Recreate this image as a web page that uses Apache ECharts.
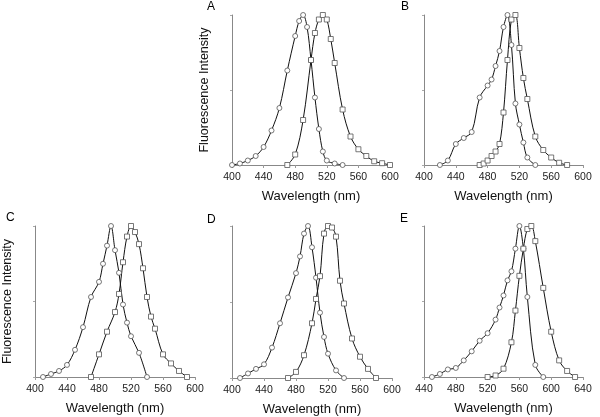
<!DOCTYPE html>
<html>
<head>
<meta charset="utf-8">
<script src="https://cdn.jsdelivr.net/npm/echarts@6/dist/echarts.min.js"></script>
<style>
  html, body { margin: 0; padding: 0; background: #fff; }
  #chart { width: 600px; height: 417px; }
</style>
</head>
<body>
<div id="chart"></div>
<script>
// panel A
const aExX = [400,410,420,430,440,450,460,470,480,485,490,495,500,505,510,515,520,530,540];
const aExY = [0,0.01,0.03,0.06,0.12,0.23,0.38,0.63,0.86,0.96,1.0,0.92,0.70,0.45,0.24,0.09,0.03,0.01,0];
const aEmX = [470,480,490,500,505,510,515,520,525,530,540,550,560,570,580,590,600];
const aEmY = [0,0.07,0.30,0.70,0.88,0.97,1.0,0.97,0.84,0.68,0.37,0.19,0.105,0.06,0.025,0.012,0];
// panel B
const bExX = [420,430,440,450,460,470,480,485,490,495,500,505,510,515,520,525,530,540];
const bExY = [0,0.03,0.14,0.18,0.22,0.45,0.53,0.57,0.66,0.76,0.92,1.0,0.80,0.41,0.27,0.15,0.05,0];
const bEmX = [470,475,480,485,490,495,500,505,510,515,520,525,530,540,550,560,570,580];
const bEmY = [0,0.01,0.03,0.06,0.09,0.14,0.35,0.70,0.97,1.0,0.78,0.58,0.44,0.19,0.10,0.05,0.015,0];
// panel C
const cExX = [410,420,430,440,450,460,470,480,485,490,495,500,505,510,515,520,530,540];
const cExY = [0,0.02,0.04,0.08,0.18,0.33,0.53,0.63,0.75,0.87,1.0,0.84,0.69,0.48,0.36,0.27,0.16,0];
const cEmX = [470,480,490,500,505,510,515,520,525,530,535,540,545,550,560,570,580,590];
const cEmY = [0,0.15,0.30,0.43,0.55,0.76,0.93,1.0,0.96,0.88,0.72,0.53,0.40,0.32,0.15,0.09,0.04,0];
// panel D
const dExX = [410,420,430,440,450,460,470,480,485,490,495,500,505,510,515,520,530,540];
const dExY = [0,0.03,0.06,0.09,0.20,0.36,0.53,0.69,0.80,0.95,1.0,0.86,0.66,0.43,0.27,0.16,0.05,0];
const dEmX = [470,480,490,500,505,510,515,520,525,530,535,540,550,560,570,580];
const dEmY = [0,0.04,0.15,0.36,0.52,0.67,0.95,1.0,0.99,0.93,0.64,0.49,0.26,0.14,0.06,0];
// panel E
const eExX = [450,460,470,480,490,500,510,520,530,535,540,545,550,555,560,565,570,580,590];
const eExY = [0,0.02,0.05,0.06,0.11,0.17,0.24,0.29,0.38,0.46,0.54,0.64,0.70,0.85,1.0,0.85,0.53,0.08,0];
const eEmX = [520,530,540,550,555,560,565,570,575,580,590,600,610,620,630];
const eEmY = [0,0.01,0.055,0.23,0.44,0.67,0.85,0.98,1.0,0.90,0.59,0.30,0.11,0.04,0];

const xTitle = "Wavelength (nm)";
const yTitle = "Fluorescence Intensity";
const letters = ["A","B","C","D","E"];

const panels = [
  { ex: [aExX, aExY], em: [aEmX, aEmY], min: 400, max: 600, yName: true,
    grid: { left: 232, top: 15, width: 158, height: 150 }, lab: [207, 1] },
  { ex: [bExX, bExY], em: [bEmX, bEmY], min: 400, max: 600, yName: false,
    grid: { left: 424, top: 15, width: 159, height: 150 }, lab: [401, 1] },
  { ex: [cExX, cExY], em: [cEmX, cEmY], min: 400, max: 600, yName: true,
    grid: { left: 35, top: 226, width: 160, height: 151 }, lab: [6, 212] },
  { ex: [dExX, dExY], em: [dEmX, dEmY], min: 400, max: 600, yName: false,
    grid: { left: 232, top: 226, width: 160, height: 152 }, lab: [207, 214] },
  { ex: [eExX, eExY], em: [eEmX, eEmY], min: 440, max: 640, yName: false,
    grid: { left: 424, top: 226, width: 159, height: 151 }, lab: [400, 213] }
];

const font = "Liberation Sans, Arial, sans-serif";
const zip = (xs, ys) => xs.map((x, i) => [x, ys[i]]);

const grid = [], xAxis = [], yAxis = [], series = [], title = [];
panels.forEach((p, i) => {
  grid.push(Object.assign({ containLabel: false }, p.grid));
  xAxis.push({
    type: "value", gridIndex: i, min: p.min, max: p.max, interval: 40,
    name: xTitle, nameLocation: "middle", nameGap: 25,
    nameTextStyle: { fontFamily: font, fontSize: 13, color: "#111" },
    axisLine: { lineStyle: { color: "#888", width: 1 } },
    axisTick: { length: 3, lineStyle: { color: "#999" } },
    axisLabel: { margin: 7, fontFamily: font, fontSize: 10.5, color: "#222" },
    splitLine: { show: false }
  });
  yAxis.push({
    type: "value", gridIndex: i, min: 0, max: 1, interval: 0.5,
    name: p.yName ? yTitle : "", nameLocation: "middle", nameGap: 21,
    nameTextStyle: { fontFamily: font, fontSize: 12.5, color: "#111" },
    axisLine: { show: true, lineStyle: { color: "#888", width: 1 } },
    axisTick: { show: true, length: 2, lineStyle: { color: "#aaa" } },
    axisLabel: { show: false },
    splitLine: { show: false }
  });
  [[p.ex, "circle"], [p.em, "rect"]].forEach(([d, sym]) => {
    series.push({
      type: "line", xAxisIndex: i, yAxisIndex: i,
      data: zip(d[0], d[1]),
      smooth: 0.35,
      symbol: sym, symbolSize: 5, showAllSymbol: true,
      lineStyle: { color: "#111", width: 1 },
      itemStyle: { color: "#fff", borderColor: "#555", borderWidth: 0.8 },
      animation: false
    });
  });
  title.push({
    text: letters[i], left: p.lab[0], top: p.lab[1], padding: 0,
    textStyle: { fontFamily: font, fontSize: 12, fontWeight: "normal", color: "#000" }
  });
});

const chart = echarts.init(document.getElementById("chart"));
chart.setOption({ animation: false, title, grid, xAxis, yAxis, series });
</script>
</body>
</html>
